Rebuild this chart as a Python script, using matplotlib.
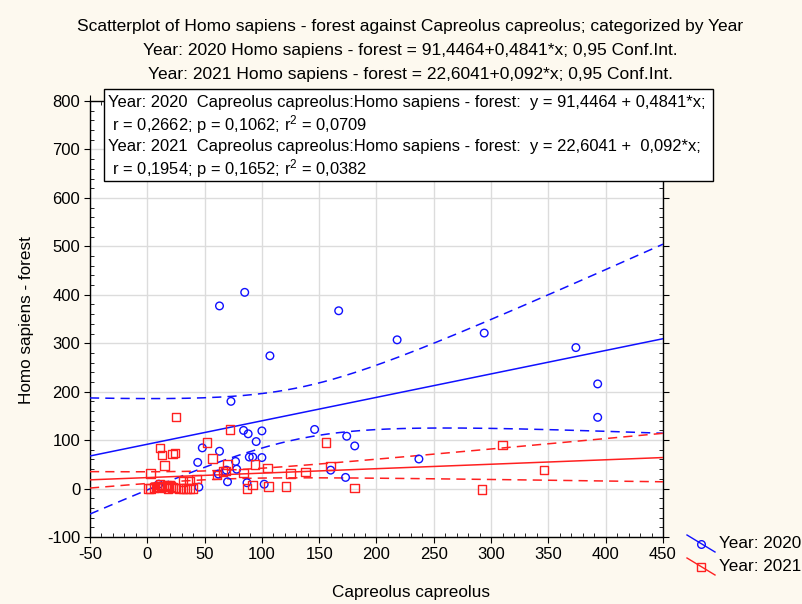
import numpy as np
import matplotlib
matplotlib.use("Agg")
import matplotlib.pyplot as plt
from matplotlib.lines import Line2D
from matplotlib.ticker import MultipleLocator

# ---------------- data ----------------
x2020 = [63, 85, 167, 107, 218, 294, 374, 393, 393, 73, 237, 146, 174, 181, 84, 88,
         100, 95, 48, 63, 44, 77, 89, 92, 100, 78, 69, 160, 173, 70, 87, 102, 45, 10,
         62]
y2020 = [377, 405, 367, 274, 307, 321, 291, 216, 147, 180, 61, 122, 108, 88, 120, 113,
         119, 97, 84, 77, 54, 56, 65, 65, 64, 40, 38, 38, 23, 14, 12, 9, 3, 9,
         30]

x2021 = [25, 72, 52, 156, 310, 11, 13, 22, 24, 15, 57, 70, 94, 105, 160, 138, 125, 84,
         68, 66, 3, 37, 43, 87, 92, 106, 121, 181, 292, 346, 61, 31,
         1, 3, 6, 8, 10, 12, 14, 16, 18, 20, 22, 25, 28, 31, 34, 37, 40, 11, 17, 19]
y2021 = [148, 122, 95, 95, 90, 84, 69, 71, 73, 48, 62, 50, 50, 42, 47, 34, 31, 32,
         36, 35, 31, 16, 20, 0, 7, 4, 4, 1, -2, 38, 28, 14,
         0, 0, 2, 3, 4, 2, 5, 3, 0, 4, 2, 1, 0, 0, 0, 0, 0, 8, 7, 6]

# regression summary statistics (2020, 2021)
reg_intercept = [91.4464, 22.6041]
reg_slope = [0.4841, 0.092]
reg_n = [38, 52]
reg_xmean = [132, 63]
reg_resid_sd = [161, 32.3]
reg_sxx = [305600, 260300]

title_lines = [
    "Scatterplot of Homo sapiens - forest against Capreolus capreolus; categorized by Year",
    "Year: 2020 Homo sapiens - forest = 91,4464+0,4841*x; 0,95 Conf.Int.",
    "Year: 2021 Homo sapiens - forest = 22,6041+0,092*x; 0,95 Conf.Int.",
]
box_lines = [
    "Year: 2020  Capreolus capreolus:Homo sapiens - forest:  y = 91,4464 + 0,4841*x;",
    " r = 0,2662; p = 0,1062; $\\mathregular{r^2}$ = 0,0709",
    "Year: 2021  Capreolus capreolus:Homo sapiens - forest:  y = 22,6041 +  0,092*x;",
    " r = 0,1954; p = 0,1652; $\\mathregular{r^2}$ = 0,0382",
]
legend_labels = ["Year: 2020", "Year: 2021"]
x_label = "Capreolus capreolus"
y_label = "Homo sapiens - forest"

FONT = ["Liberation Sans", "DejaVu Sans"]
plt.rcParams["font.family"] = FONT
plt.rcParams["mathtext.fontset"] = "custom"
plt.rcParams["axes.unicode_minus"] = False

W, H = 803, 604
fig = plt.figure(figsize=(W / 100, H / 100), dpi=100, facecolor="#FDF9EF")

def fx(px):
    return px / W

def fy(py):
    return 1 - py / H

ax = fig.add_axes([fx(90), fy(537), fx(663) - fx(90), fy(101) - fy(537)])
ax.set_facecolor("white")
ax.set_xlim(-50, 450)
ax.set_ylim(-100, 800)
ax.xaxis.set_major_locator(MultipleLocator(50))
ax.yaxis.set_major_locator(MultipleLocator(100))
ax.xaxis.set_minor_locator(MultipleLocator(10))
ax.yaxis.set_minor_locator(MultipleLocator(20))
ax.grid(True, which="major", color="#DCDCDC", linewidth=1.0)
ax.set_axisbelow(True)
ax.tick_params(which="major", direction="out", length=4, labelsize=12, colors="black",
               top=True, right=True, pad=3)
ax.tick_params(which="minor", direction="in", length=3, top=True, right=True)
for s in ax.spines.values():
    s.set_color("black")
    s.set_linewidth(1.0)

blue = "#1010FF"
red = "#FF2020"

def tcrit(df):
    # two-sided 0.975 quantile of Student t, Cornish-Fisher expansion
    z = 1.959964
    g1 = (z**3 + z) / 4
    g2 = (5 * z**5 + 16 * z**3 + 3 * z) / 96
    g3 = (3 * z**7 + 19 * z**5 + 17 * z**3 - 15 * z) / 384
    return z + g1 / df + g2 / df**2 + g3 / df**3

xx = np.linspace(-50, 450, 300)
for i, col in enumerate([blue, red]):
    a, b = reg_intercept[i], reg_slope[i]
    n = reg_n[i]
    yy = a + b * xx
    hw = tcrit(n - 2) * reg_resid_sd[i] * np.sqrt(1 / n + (xx - reg_xmean[i])**2 / reg_sxx[i])
    ax.plot(xx, yy, color=col, lw=1.1, zorder=3)
    ax.plot(xx, yy + hw, color=col, lw=1.1, ls=(0, (6, 4)), zorder=3)
    ax.plot(xx, yy - hw, color=col, lw=1.1, ls=(0, (6, 4)), zorder=3)

ax.scatter(x2020, y2020, s=30, facecolors="none", edgecolors=blue, linewidths=1.0,
           marker="o", zorder=4, clip_on=False)
ax.scatter(x2021, y2021, s=38, facecolors="none", edgecolors=red, linewidths=1.0,
           marker="s", zorder=4, clip_on=False)

fig.text(fx(411), fy(592), x_label, ha="center", va="center", fontsize=12.3)
fig.text(fx(27), fy(320), y_label, ha="center", va="center", rotation=90, fontsize=12.3)

for ty, t in zip([27, 50, 74], title_lines):
    fig.text(fx(410), fy(ty), t, ha="center", va="center", fontsize=12.5)

# text box
bx0, by0, bx1, by1 = 104, 89, 713, 181
rect = plt.Rectangle((fx(bx0), fy(by1)), fx(bx1) - fx(bx0), fy(by0) - fy(by1),
                     transform=fig.transFigure, facecolor="white", edgecolor="black",
                     linewidth=1.0, zorder=5)
fig.patches.append(rect)
for ty, t in zip([103, 125, 147, 169], box_lines):
    fig.text(fx(108), fy(ty), t, ha="left", va="center", fontsize=11.9, zorder=6)

# legend
for (p0, p1, mk, col, lab) in [((687, 535), (715, 552), "o", blue, legend_labels[0]),
                                 ((687, 558), (715, 575), "s", red, legend_labels[1])]:
    fig.add_artist(Line2D([fx(p0[0]), fx(p1[0])], [fy(p0[1]), fy(p1[1])],
                          transform=fig.transFigure, color=col, lw=1.0))
    mx = (p0[0] + p1[0]) / 2
    my = (p0[1] + p1[1]) / 2
    fig.add_artist(Line2D([fx(mx)], [fy(my)], transform=fig.transFigure, marker=mk,
                          markersize=5.5, markerfacecolor="none", markeredgecolor=col,
                          lw=0))
    fig.text(fx(719), fy(my), lab, ha="left", va="center", fontsize=12.3)

fig.savefig("out.png", dpi=100, facecolor=fig.get_facecolor())
